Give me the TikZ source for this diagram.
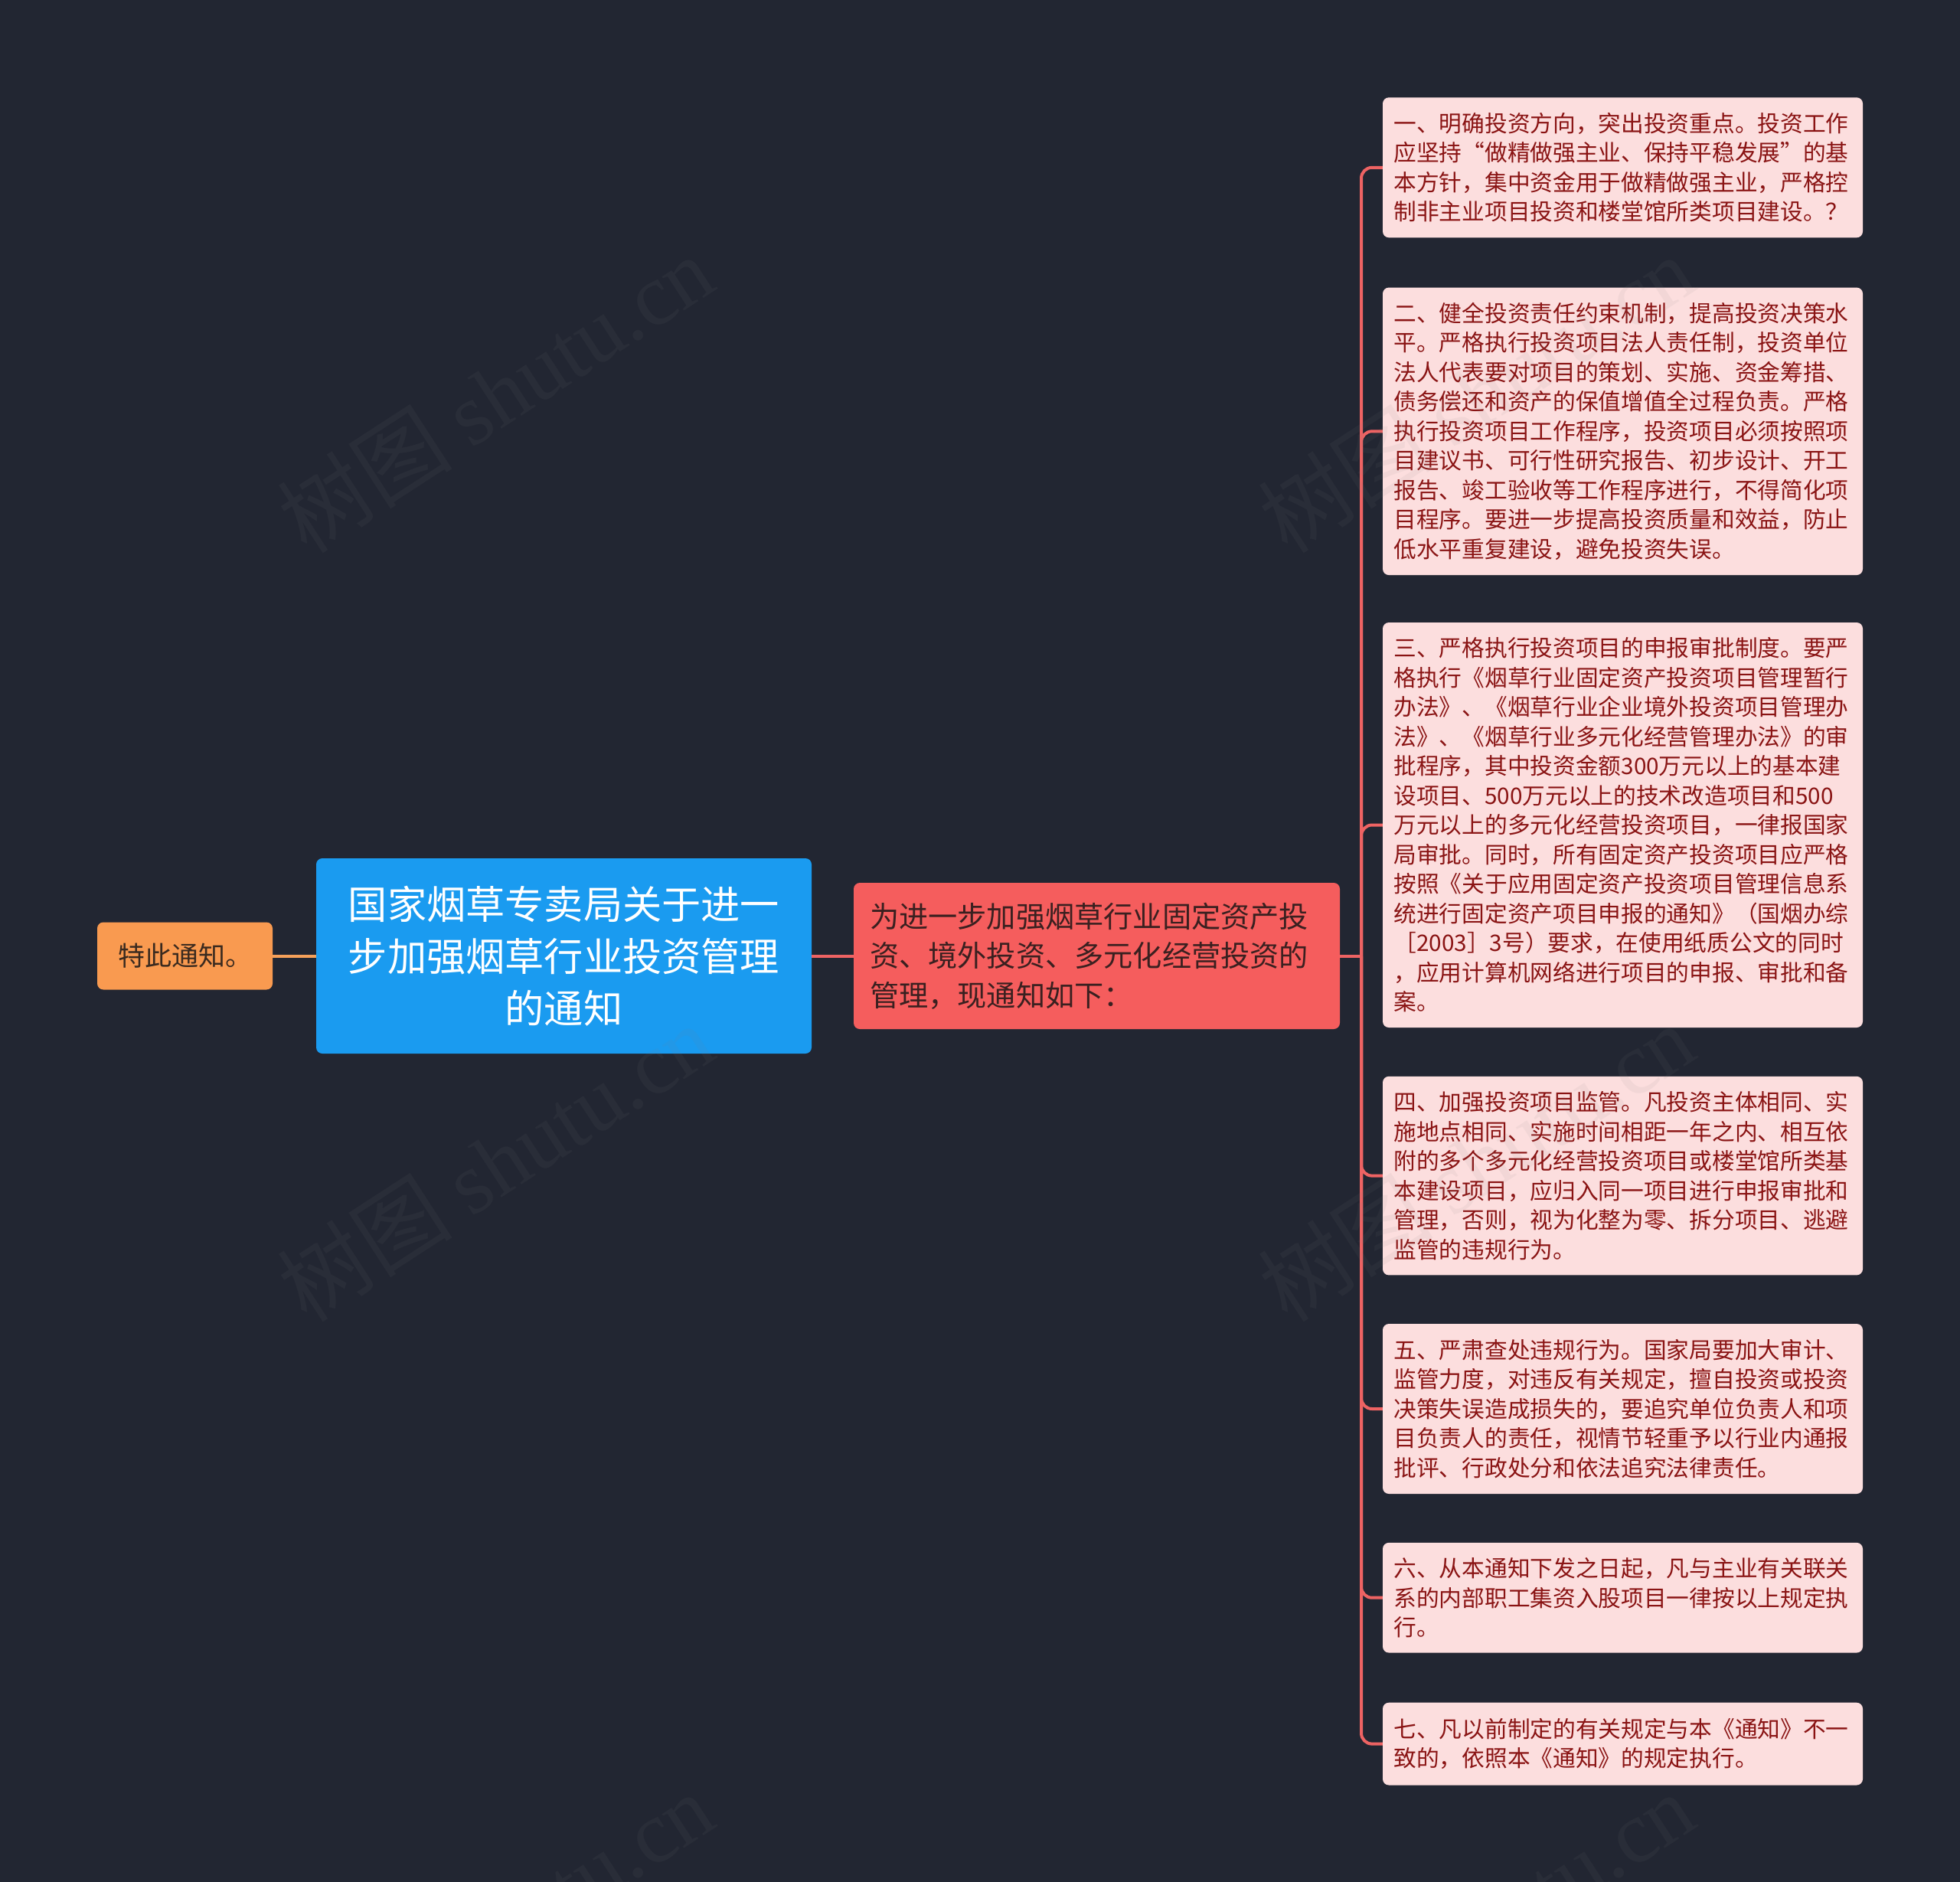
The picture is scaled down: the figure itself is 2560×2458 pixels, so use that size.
\documentclass[tikz,border=0pt]{standalone}
\usepackage{fontspec}
\setmainfont{Noto Sans CJK SC}
\newfontfamily\wmfont{Liberation Serif}
\definecolor{bgc}{HTML}{222632}
\definecolor{leaffill}{HTML}{FCDEDE}
\definecolor{leaftext}{HTML}{8A1414}
\definecolor{rootblue}{HTML}{1A9BF0}
\definecolor{redbox}{HTML}{F55D5D}
\definecolor{redtext}{HTML}{3A2020}
\definecolor{orangebox}{HTML}{F99A50}
\definecolor{orangetext}{HTML}{3A2A1F}
\definecolor{linered}{HTML}{EE6363}
\definecolor{lineorange}{HTML}{F5A05A}
\begin{document}
\begin{tikzpicture}[x=1pt,y=-1pt,
  leaf/.style={fill=leaffill, rounded corners=8pt, text=leaftext,
    font=\fontsize{29.7pt}{38.5pt}\selectfont, align=left,
    text width=598pt, inner xsep=14.5pt, inner ysep=0pt},
  rootnode/.style={fill=rootblue, rounded corners=8pt, text=white,
    font=\fontsize{51.2pt}{68pt}\selectfont, align=center,
    minimum width=647pt, minimum height=255pt, inner sep=0pt},
  mainnode/.style={fill=redbox, rounded corners=8pt, text=redtext,
    font=\fontsize{38.2pt}{51.4pt}\selectfont, align=left,
    text width=593pt, inner xsep=21pt, inner ysep=0pt, minimum height=191pt},
  endnode/.style={fill=orangebox, rounded corners=8pt, text=orangetext,
    font=\fontsize{35pt}{40pt}\selectfont,
    minimum width=229pt, minimum height=88pt, inner sep=0pt},
  redline/.style={draw=linered, line width=4pt},
  orangeline/.style={draw=lineorange, line width=4pt},
  wmark/.style={text=gray, opacity=0.08, rotate=33,
    font=\fontsize{115pt}{115pt}\selectfont, inner sep=0pt}
]
\fill[bgc] (0,0) rectangle (2560,2458);
\useasboundingbox (0,0) rectangle (2560,2458);

\node[endnode] (fin) at (241.5,1248.5) {特此通知。};
\node[rootnode] (root) at (736.5,1248.5) {国家烟草专卖局关于进一\\步加强烟草行业投资管理\\的通知};
\node[mainnode] (main) at (1432.5,1248.5) {为进一步加强烟草行业固定资产投\\资、境外投资、多元化经营投资的\\管理，现通知如下：};

\node[leaf, minimum height=183pt] (b1) at (2119.5,218.8) {一、明确投资方向，突出投资重点。投资工作\\应坚持“做精做强主业、保持平稳发展”的基\\本方针，集中资金用于做精做强主业，严格控\\制非主业项目投资和楼堂馆所类项目建设。？};
\node[leaf, minimum height=375.5pt] (b2) at (2119.5,563.3) {二、健全投资责任约束机制，提高投资决策水\\平。严格执行投资项目法人责任制，投资单位\\法人代表要对项目的策划、实施、资金筹措、\\债务偿还和资产的保值增值全过程负责。严格\\执行投资项目工作程序，投资项目必须按照项\\目建议书、可行性研究报告、初步设计、开工\\报告、竣工验收等工作程序进行，不得简化项\\目程序。要进一步提高投资质量和效益，防止\\低水平重复建设，避免投资失误。};
\node[leaf, minimum height=529pt] (b3) at (2119.5,1077.5) {三、严格执行投资项目的申报审批制度。要严\\格执行《烟草行业固定资产投资项目管理暂行\\办法》、《烟草行业企业境外投资项目管理办\\法》、《烟草行业多元化经营管理办法》的审\\批程序，其中投资金额300万元以上的基本建\\设项目、500万元以上的技术改造项目和500\\万元以上的多元化经营投资项目，一律报国家\\局审批。同时，所有固定资产投资项目应严格\\按照《关于应用固定资产投资项目管理信息系\\统进行固定资产项目申报的通知》（国烟办综\\［2003］3号）要求，在使用纸质公文的同时\\，应用计算机网络进行项目的申报、审批和备\\案。};
\node[leaf, minimum height=259.6pt] (b4) at (2119.5,1535.6) {四、加强投资项目监管。凡投资主体相同、实\\施地点相同、实施时间相距一年之内、相互依\\附的多个多元化经营投资项目或楼堂馆所类基\\本建设项目，应归入同一项目进行申报审批和\\管理，否则，视为化整为零、拆分项目、逃避\\监管的违规行为。};
\node[leaf, minimum height=222pt] (b5) at (2119.5,1840) {五、严肃查处违规行为。国家局要加大审计、\\监管力度，对违反有关规定，擅自投资或投资\\决策失误造成损失的，要追究单位负责人和项\\目负责人的责任，视情节轻重予以行业内通报\\批评、行政处分和依法追究法律责任。};
\node[leaf, minimum height=143.7pt] (b6) at (2119.5,2086.7) {六、从本通知下发之日起，凡与主业有关联关\\系的内部职工集资入股项目一律按以上规定执\\行。};
\node[leaf, minimum height=107.8pt] (b7) at (2119.5,2277.6) {七、凡以前制定的有关规定与本《通知》不一\\致的，依照本《通知》的规定执行。};

\coordinate (trunk) at (1778,1248.5);
\draw[orangeline] (fin.east) -- (root.west);
\draw[redline] (root.east) -- (main.west);
\draw[redline] (main.east) -- (trunk);
\foreach \b in {b1,b2,b3,b4,b5,b6,b7}{
  \draw[redline, rounded corners=14pt] (trunk) |- (\b.west);
}

\node[wmark] (wm1) at (647,514) {树图 {\wmfont shutu.cn}};
\node[wmark] (wm2) at (647,1518) {树图 {\wmfont shutu.cn}};
\node[wmark] (wm3) at (1928,514) {树图 {\wmfont shutu.cn}};
\node[wmark] (wm4) at (1928,1518) {树图 {\wmfont shutu.cn}};
\node[wmark] (wm5) at (647,2522) {树图 {\wmfont shutu.cn}};
\node[wmark] (wm6) at (1928,2522) {树图 {\wmfont shutu.cn}};
\end{tikzpicture}
\end{document}
